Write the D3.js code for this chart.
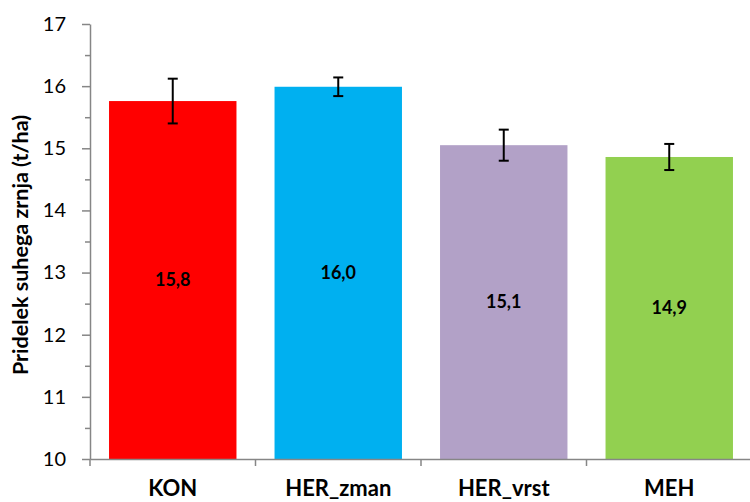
<!DOCTYPE html>
<html lang="en">
<head>
<meta charset="UTF-8" />
<title>Pridelek</title>
<style>
  body { margin: 0; background: #fff; }
  svg { display: block; font-family: Lato, "Open Sans", sans-serif; }
</style>
</head>
<body>
<svg id="chart" width="750" height="502"></svg>
<script src="https://d3js.org/d3.v7.min.js"></script>
<script>
// data
const categories = ['KON', 'HER_zman', 'HER_vrst', 'MEH'];
const values = [15.76, 15.99, 15.05, 14.86];
const errors = [0.36, 0.15, 0.25, 0.21];
const labels = ['15,8', '16,0', '15,1', '14,9'];
const colors = ['#FF0000', '#00B0F0', '#B2A1C7', '#92D050'];
const yTicks = [10, 11, 12, 13, 14, 15, 16, 17];
const yMinor = [10.5, 11.5, 12.5, 13.5, 14.5, 15.5, 16.5];

const width = 750;
const height = 502;
const mLeft = 90;
const mTop = 24;
const mBottom = 459;
const mRight = 752;

const svg = d3.select('#chart');

// scales
const x = d3.scaleBand()
  .domain(categories)
  .range([mLeft, mRight])
  .paddingInner(0.23)
  .paddingOuter(0.115);

const xTicks = d3.scaleBand().domain(categories).range([mLeft, mRight]);

const y = d3.scaleLinear().domain([10, 17]).range([mBottom, mTop]);

// bars
const g = svg.append('g');
g.selectAll('rect')
  .data(values)
  .join('rect')
  .attr('x', (d, i) => x(categories[i]))
  .attr('y', d => y(d))
  .attr('width', x.bandwidth())
  .attr('height', d => y(10) - y(d))
  .attr('fill', (d, i) => colors[i]);

// error bars
const eb = g.selectAll('.err')
  .data(values)
  .join('g')
  .attr('class', 'err')
  .attr('transform', (d, i) => `translate(${x(categories[i]) + x.bandwidth() / 2},0)`);
eb.append('line')
  .attr('y1', (d, i) => y(d + errors[i]))
  .attr('y2', (d, i) => y(d - errors[i]))
  .attr('stroke', '#000').attr('stroke-width', 2);
eb.append('line')
  .attr('x1', -5).attr('x2', 5)
  .attr('y1', (d, i) => y(d + errors[i]))
  .attr('y2', (d, i) => y(d + errors[i]))
  .attr('stroke', '#000').attr('stroke-width', 2);
eb.append('line')
  .attr('x1', -5).attr('x2', 5)
  .attr('y1', (d, i) => y(d - errors[i]))
  .attr('y2', (d, i) => y(d - errors[i]))
  .attr('stroke', '#000').attr('stroke-width', 2);

// value labels in the middle of the bars
g.selectAll('.lbl')
  .data(values)
  .join('text')
  .attr('class', 'lbl')
  .attr('x', (d, i) => x(categories[i]) + x.bandwidth() / 2)
  .attr('y', d => (y(d) + y(10)) / 2)
  .attr('dy', '0.35em')
  .attr('text-anchor', 'middle')
  .attr('font-size', 18)
  .attr('font-weight', 'bold')
  .attr('fill', '#000')
  .text((d, i) => labels[i]);

// y axis with minor ticks
const minorAxis = d3.axisLeft(y).tickValues(yMinor).tickSize(5).tickFormat('');
svg.append('g')
  .attr('transform', `translate(${mLeft},0)`)
  .call(minorAxis)
  .call(a => a.select('.domain').remove())
  .selectAll('line').attr('stroke', '#868686').attr('stroke-width', 1.5);

const leftAxis = d3.axisLeft(y)
  .tickValues(yTicks)
  .tickFormat(d3.format('d'))
  .tickSize(8)
  .tickPadding(16)
  .tickSizeOuter(0);
const ya = svg.append('g')
  .attr('transform', `translate(${mLeft},0)`)
  .call(leftAxis);
ya.select('.domain').attr('stroke', '#868686').attr('stroke-width', 1.5);
ya.selectAll('line').attr('stroke', '#868686').attr('stroke-width', 1.5);
ya.selectAll('text').attr('font-size', 20).attr('fill', '#000').attr('font-family', 'Lato, sans-serif');

// x axis
const bottomAxis = d3.axisBottom(xTicks).tickSize(7).tickSizeOuter(0).tickFormat('');
const xa = svg.append('g')
  .attr('transform', `translate(0,${mBottom})`)
  .call(bottomAxis);
xa.select('.domain').attr('stroke', '#868686').attr('stroke-width', 1.5);
xa.selectAll('.tick')
  .attr('transform', d => `translate(${xTicks(d)},0)`);
xa.selectAll('line').attr('stroke', '#868686').attr('stroke-width', 1.5);

svg.append('g')
  .selectAll('text')
  .data(categories)
  .join('text')
  .attr('x', d => x(d) + x.bandwidth() / 2)
  .attr('y', 496)
  .attr('text-anchor', 'middle')
  .attr('font-size', 22)
  .attr('font-weight', 'bold')
  .attr('fill', '#000')
  .text(d => d);

// y title
svg.append('text')
  .attr('transform', `translate(28,245) rotate(-90)`)
  .attr('text-anchor', 'middle')
  .attr('font-size', 21.5)
  .attr('font-weight', 'bold')
  .attr('fill', '#000')
  .text('Pridelek suhega zrnja (t/ha)');
</script>
</body>
</html>
